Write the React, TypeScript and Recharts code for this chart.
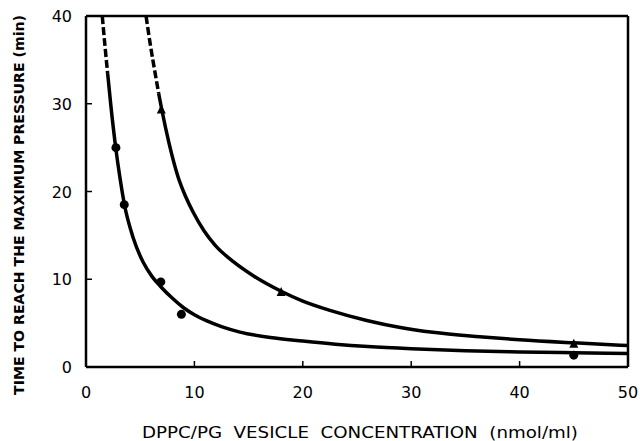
import React from 'react';
import { ComposedChart, Line, Scatter, XAxis, YAxis, ReferenceLine } from 'recharts';

const xTicks = [0, 10, 20, 30, 40, 50];
const yTicks = [0, 10, 20, 30, 40];

const xTitle = 'DPPC/PG  VESICLE  CONCENTRATION  (nmol/ml)';
const yTitle = 'TIME TO REACH THE MAXIMUM PRESSURE (min)';

// lower curve (circles)
const lowerDashed = [
  { x: 1.5, y: 40 },
  { x: 1.75, y: 36.6 },
  { x: 2.0, y: 33.4 },
];
const lowerSolid = [
  { x: 2.0, y: 33.4 },
  { x: 2.31, y: 29.6 },
  { x: 2.74, y: 25.0 },
  { x: 3.14, y: 21.5 },
  { x: 3.53, y: 18.6 },
  { x: 4.36, y: 14.7 },
  { x: 5.29, y: 11.9 },
  { x: 6.1, y: 10.3 },
  { x: 6.9, y: 9.15 },
  { x: 8.0, y: 7.8 },
  { x: 9.0, y: 6.75 },
  { x: 10, y: 5.95 },
  { x: 11.1, y: 5.28 },
  { x: 12.5, y: 4.6 },
  { x: 14.2, y: 3.98 },
  { x: 17, y: 3.35 },
  { x: 20, y: 2.95 },
  { x: 23, y: 2.6 },
  { x: 26, y: 2.33 },
  { x: 30, y: 2.08 },
  { x: 35, y: 1.86 },
  { x: 40, y: 1.72 },
  { x: 45, y: 1.62 },
  { x: 50, y: 1.55 },
];

// upper curve (triangles)
const upperDashed = [
  { x: 5.54, y: 40 },
  { x: 5.9, y: 37.0 },
  { x: 6.46, y: 32.9 },
  { x: 6.7, y: 31.2 },
];
const upperSolid = [
  { x: 6.7, y: 31.2 },
  { x: 6.98, y: 29.4 },
  { x: 7.68, y: 25.4 },
  { x: 8.51, y: 21.6 },
  { x: 9.2, y: 19.4 },
  { x: 9.9, y: 17.6 },
  { x: 10.9, y: 15.5 },
  { x: 11.9, y: 13.9 },
  { x: 13.59, y: 12.0 },
  { x: 15.43, y: 10.4 },
  { x: 18.05, y: 8.6 },
  { x: 20, y: 7.5 },
  { x: 22.5, y: 6.45 },
  { x: 25.9, y: 5.3 },
  { x: 29, y: 4.5 },
  { x: 32, y: 3.95 },
  { x: 36.3, y: 3.45 },
  { x: 40, y: 3.1 },
  { x: 45, y: 2.75 },
  { x: 50, y: 2.45 },
];

const circlePoints = [
  { x: 2.76, y: 25.0 },
  { x: 3.53, y: 18.5 },
  { x: 6.9, y: 9.7 },
  { x: 8.8, y: 6.0 },
  { x: 45, y: 1.35 },
];
const trianglePoints = [
  { x: 6.95, y: 29.3 },
  { x: 18.0, y: 8.5 },
  { x: 45, y: 2.6 },
];

const INK = '#000';
const tickFont = "'DejaVu Sans', Verdana, sans-serif";

const XTick = (props: any) => {
  const { x, y, payload } = props;
  return (
    <g>
      <line x1={x} y1={y} x2={x} y2={y - 6} stroke={INK} strokeWidth={1.5} />
      <text x={x} y={y + 31} textAnchor="middle" fontFamily={tickFont} fontSize={16} fill={INK}>
        {payload.value}
      </text>
    </g>
  );
};

const YTick = (props: any) => {
  const { x, y, payload } = props;
  return (
    <g>
      <line x1={x} y1={y} x2={x + 6} y2={y} stroke={INK} strokeWidth={1.5} />
      <text x={x - 14} y={y + 6} textAnchor="end" fontFamily={tickFont} fontSize={16} fill={INK}>
        {payload.value}
      </text>
    </g>
  );
};

const CircleMark = (props: any) => <circle cx={props.cx} cy={props.cy} r={4.5} fill={INK} />;
const TriMark = (props: any) => {
  const { cx, cy } = props;
  return <path d={`M${cx},${cy - 5.5} L${cx + 4.5},${cy + 3.5} L${cx - 4.5},${cy + 3.5} Z`} fill={INK} />;
};

const lineProps = {
  xAxisId: 'b',
  yAxisId: 'l',
  dataKey: 'y',
  type: 'monotone' as const,
  dot: false,
  activeDot: false,
  stroke: INK,
  strokeWidth: 3.5,
  isAnimationActive: false,
};

export default function App() {
  return (
    <div style={{ position: 'absolute', left: 0, top: 0, width: 640, height: 441, background: '#fff' }}>
      <ComposedChart width={640} height={441} margin={{ top: 16, right: 12, bottom: 0, left: 0 }}>
        <XAxis
          xAxisId="b"
          type="number"
          dataKey="x"
          domain={[0, 50]}
          ticks={xTicks}
          height={74}
          allowDataOverflow
          axisLine={{ stroke: INK, strokeWidth: 2.5 }}
          tickLine={false}
          tickSize={0}
          tickMargin={0}
          tick={<XTick />}
        />
        <YAxis
          yAxisId="l"
          type="number"
          dataKey="y"
          domain={[0, 40]}
          ticks={yTicks}
          width={86}
          allowDataOverflow
          axisLine={{ stroke: INK, strokeWidth: 2.5 }}
          tickLine={false}
          tickSize={0}
          tickMargin={0}
          tick={<YTick />}
        />
        <ReferenceLine xAxisId="b" yAxisId="l" y={40} stroke={INK} strokeWidth={2.5} />
        <ReferenceLine xAxisId="b" yAxisId="l" x={50} stroke={INK} strokeWidth={2.5} />
        <Line {...lineProps} data={lowerDashed} strokeDasharray="8 3" />
        <Line {...lineProps} data={lowerSolid} />
        <Line {...lineProps} data={upperDashed} strokeDasharray="8 3" />
        <Line {...lineProps} data={upperSolid} />
        <Scatter xAxisId="b" yAxisId="l" data={circlePoints} shape={<CircleMark />} isAnimationActive={false} />
        <Scatter xAxisId="b" yAxisId="l" data={trianglePoints} shape={<TriMark />} isAnimationActive={false} />
      </ComposedChart>
      <svg width={640} height={441} style={{ position: 'absolute', left: 0, top: 0, pointerEvents: 'none' }}>
        <text
          x={360}
          y={438}
          textAnchor="middle"
          fontFamily={tickFont}
          fontSize={15}
          fill={INK}
          textLength={436}
          lengthAdjust="spacingAndGlyphs"
          style={{ whiteSpace: 'pre' }}
        >
          {xTitle}
        </text>
        <text
          x={0}
          y={0}
          transform="translate(24,205) rotate(-90)"
          textAnchor="middle"
          fontFamily="'Liberation Sans Narrow', 'Arial Narrow', 'DejaVu Sans Condensed', sans-serif"
          fontWeight={700}
          fontSize={14}
          fill={INK}
          textLength={380}
          lengthAdjust="spacingAndGlyphs"
        >
          {yTitle}
        </text>
      </svg>
    </div>
  );
}
